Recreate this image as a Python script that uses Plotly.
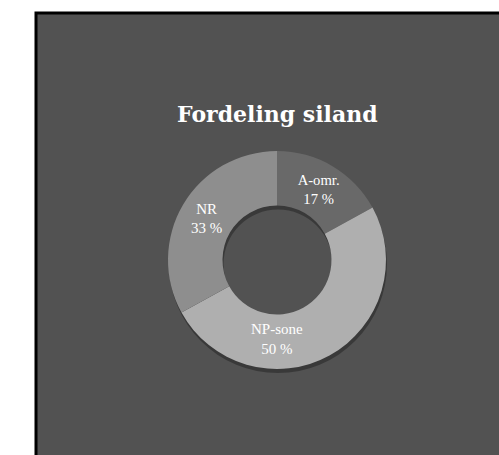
import plotly.graph_objects as go

labels = ['A-omr.', 'NP-sone', 'NR']
shares = [17, 50, 33]
colors = ['#696969', '#afafaf', '#8e8e8e']

W, H = 499, 455
cx, cy, r = 277, 260, 109  # donut centre and radius, px from top-left

def dom(dx=0, dy=0):
    return dict(x=[(cx - r + dx) / W, (cx + r + dx) / W],
                y=[(H - cy - r - dy) / H, (H - cy + r - dy) / H])

fig = go.Figure()

# soft shadow under the ring
fig.add_trace(go.Pie(values=[1], hole=0.5, sort=False, textinfo='none',
                     hoverinfo='skip', showlegend=False,
                     marker=dict(colors=['rgba(0,0,0,0.3)'], line=dict(width=0)),
                     domain=dom(1, 4)))

fig.add_trace(go.Pie(labels=labels, values=shares, hole=0.5, sort=False,
                     direction='clockwise', rotation=0,
                     marker=dict(colors=colors, line=dict(width=0)),
                     texttemplate='%{label}<br>%{value} %',
                     textposition='inside', insidetextorientation='horizontal',
                     textfont=dict(family='Liberation Serif', size=15, color='white'),
                     showlegend=False, domain=dom()))

fig.update_layout(
    width=W, height=H,
    margin=dict(l=0, r=0, t=0, b=0),
    paper_bgcolor='white',
    shapes=[dict(type='rect', xref='paper', yref='paper',
                 x0=36 / W, x1=1.05, y0=-0.05, y1=1 - 13 / H,
                 fillcolor='#525252', line=dict(color='black', width=3),
                 layer='below')],
    annotations=[dict(text='<b>Fordeling siland</b>', x=cx / W, y=1 - 99 / H,
                      xref='paper', yref='paper', showarrow=False,
                      font=dict(family='DejaVu Serif', size=22, color='white'))],
)

# drop the default page margin so the figure sits at 0,0
fig.write_html('out.html', config={'displayModeBar': False},
               post_script="document.body.style.margin='0';document.body.style.overflow='hidden';")
